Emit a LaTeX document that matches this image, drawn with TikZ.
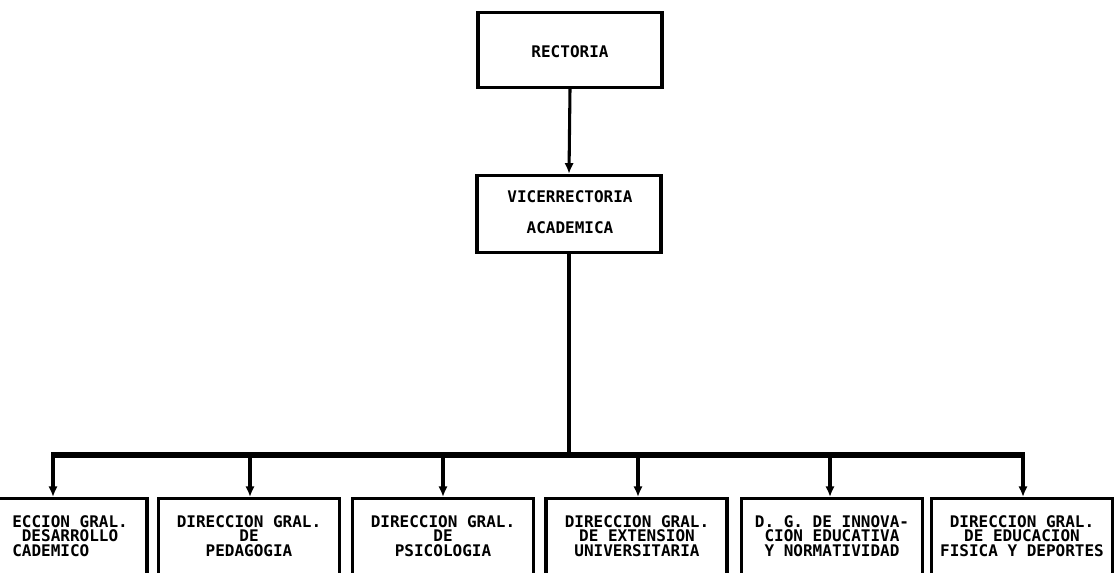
\documentclass[tikz,border=0pt]{standalone}
\usepackage{fontspec}
\setmonofont{DejaVu Sans Mono}
\usetikzlibrary{arrows.meta}
\begin{document}
\begin{tikzpicture}[x=0.75pt,y=-0.75pt,
  topbox/.style={draw, line width=2.3pt, minimum width=138pt, minimum height=56pt, inner sep=0pt},
  lowbox/.style={draw, line width=2.3pt, minimum width=135.75pt, minimum height=90pt, anchor=north, inner sep=0pt},
  toptxt/.style={font=\ttfamily\bfseries\fontsize{12}{23}\selectfont, align=center, inner sep=0pt},
  lowtxt/.style={font=\ttfamily\bfseries\fontsize{12}{11}\selectfont, align=center, inner sep=0pt},
  conn/.style={line width=2.3pt},
  busline/.style={line width=3.8pt},
  arr/.style={line width=2.3pt, -{Latex[length=8pt,width=7pt]}}
]
\useasboundingbox (0,0) rectangle (1116,573);
\clip (0,0) rectangle (1116,573);
\fill[white] (0,0) rectangle (1116,573);

% top boxes
\node[topbox] (rect) at (570,50) {};
\node[toptxt] (rectt) at (570,52) {RECTORIA};
\node[topbox, minimum height=58pt] (vice) at (569,214) {};
\node[toptxt] (vicet) at (570,212) {VICERRECTORIA\\ACADEMICA};

\draw[arr] (rect.south) -- (vice.north);

% bus
\coordinate (jc) at (569,455);
\coordinate (j1) at (53,455);
\coordinate (j2) at (250,455);
\coordinate (j3) at (443,455);
\coordinate (j4) at (638,455);
\coordinate (j5) at (830,455);
\coordinate (j6) at (1023,455);
\draw[conn] (vice.south) -- (jc);
\draw[busline] ([xshift=-1.2pt]j1) -- ([xshift=1.2pt]j6);

% lower boxes
\node[lowbox] (b1) at (56.5,497) {};
\node[lowbox] (b2) at (249,497) {};
\node[lowbox] (b3) at (443,497) {};
\node[lowbox] (b4) at (636.5,497) {};
\node[lowbox] (b5) at (832,497) {};
\node[lowbox] (b6) at (1022,497) {};

\foreach \i in {1,...,6} {\draw[arr] (j\i) -- (j\i |- b\i.north);}

% texts
\node[lowtxt, align=left, anchor=west] (t1) at (12,536) {ECCION GRAL.\\\hspace*{0.6em}DESARROLLO\\CADEMICO};
\node[lowtxt] (t2) at (249,536) {DIRECCION GRAL.\\DE\\PEDAGOGIA};
\node[lowtxt] (t3) at (443,536) {DIRECCION GRAL.\\DE\\PSICOLOGIA};
\node[lowtxt] (t4) at (637,536) {DIRECCION GRAL.\\DE EXTENSION\\UNIVERSITARIA};
\node[lowtxt] (t5) at (832,536) {D. G. DE INNOVA-\\CION EDUCATIVA\\Y NORMATIVIDAD};
\node[lowtxt] (t6) at (1022,536) {DIRECCION GRAL.\\DE EDUCACION\\FISICA Y DEPORTES};
\end{tikzpicture}
\end{document}
